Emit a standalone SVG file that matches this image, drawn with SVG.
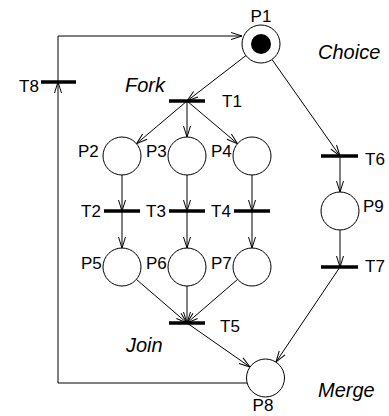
<svg xmlns="http://www.w3.org/2000/svg" width="389" height="416" viewBox="0 0 389 416">
<style>
.place{fill:#fff;stroke:#000;stroke-width:1}
.bar{stroke:#000;stroke-width:3.5}
.lbl{font-family:"Liberation Sans",Arial,sans-serif;font-size:17px;fill:#000}
.it{font-family:"Liberation Sans",Arial,sans-serif;font-size:20px;font-style:italic;fill:#000}
.arc{fill:none;stroke:#000;stroke-width:1}
</style>
<defs>
<marker id="ah" markerUnits="userSpaceOnUse" markerWidth="13" markerHeight="10" refX="12" refY="5" orient="auto">
<path d="M1,1.5 L12,5 L1,8.5" fill="none" stroke="#000" stroke-width="1"/>
</marker>
</defs>
<g id="connectors">
<polyline class="arc" points="58,82 58,36 242,36" marker-end="url(#ah)"/>
<polyline class="arc" points="247,383 58,383 58,82" marker-end="url(#ah)"/>
<line class="arc" x1="246" y1="55.5" x2="187" y2="101" marker-end="url(#ah)"/>
<line class="arc" x1="272" y1="59.5" x2="340" y2="156" marker-end="url(#ah)"/>
<line class="arc" x1="187" y1="101" x2="136.5" y2="143.7" marker-end="url(#ah)"/>
<line class="arc" x1="187" y1="101" x2="187" y2="137" marker-end="url(#ah)"/>
<line class="arc" x1="187" y1="101" x2="237.5" y2="143.7" marker-end="url(#ah)"/>
<line class="arc" x1="122" y1="175" x2="122" y2="211" marker-end="url(#ah)"/>
<line class="arc" x1="187" y1="175" x2="187" y2="211" marker-end="url(#ah)"/>
<line class="arc" x1="252" y1="175" x2="252" y2="211" marker-end="url(#ah)"/>
<line class="arc" x1="122" y1="211" x2="122" y2="248" marker-end="url(#ah)"/>
<line class="arc" x1="187" y1="211" x2="187" y2="248" marker-end="url(#ah)"/>
<line class="arc" x1="252" y1="211" x2="252" y2="248" marker-end="url(#ah)"/>
<line class="arc" x1="136.4" y1="279.4" x2="187" y2="323" marker-end="url(#ah)"/>
<line class="arc" x1="187" y1="286" x2="187" y2="323" marker-end="url(#ah)"/>
<line class="arc" x1="237.6" y1="279.4" x2="187" y2="323" marker-end="url(#ah)"/>
<line class="arc" x1="187" y1="323" x2="250" y2="367" marker-end="url(#ah)"/>
<line class="arc" x1="340" y1="156" x2="340" y2="192" marker-end="url(#ah)"/>
<line class="arc" x1="340" y1="230" x2="340" y2="267" marker-end="url(#ah)"/>
<line class="arc" x1="340" y1="267" x2="276" y2="362" marker-end="url(#ah)"/>
</g>
<g id="P1"><circle class="place" cx="261" cy="44" r="19"/><circle cx="261" cy="44" r="10" fill="#000"/><text class="lbl" x="261" y="22" text-anchor="middle">P1</text></g>
<g id="P2"><circle class="place" cx="122" cy="156" r="19"/><text class="lbl" x="78" y="157">P2</text></g>
<g id="P3"><circle class="place" cx="187" cy="156" r="19"/><text class="lbl" x="146" y="157">P3</text></g>
<g id="P4"><circle class="place" cx="252" cy="156" r="19"/><text class="lbl" x="211" y="157">P4</text></g>
<g id="P5"><circle class="place" cx="122" cy="267" r="19"/><text class="lbl" x="81" y="269">P5</text></g>
<g id="P6"><circle class="place" cx="187" cy="267" r="19"/><text class="lbl" x="146" y="269">P6</text></g>
<g id="P7"><circle class="place" cx="252" cy="267" r="19"/><text class="lbl" x="211" y="269">P7</text></g>
<g id="P8"><circle class="place" cx="265.5" cy="378" r="19"/><text class="lbl" x="263" y="411" text-anchor="middle">P8</text></g>
<g id="P9"><circle class="place" cx="340" cy="211" r="19"/><text class="lbl" x="363" y="212">P9</text></g>
<g id="T1"><line class="bar" x1="169" y1="101" x2="205" y2="101"/><text class="lbl" x="222" y="107">T1</text></g>
<g id="T2"><line class="bar" x1="104" y1="211" x2="140" y2="211"/><text class="lbl" x="81" y="217">T2</text></g>
<g id="T3"><line class="bar" x1="169" y1="211" x2="205" y2="211"/><text class="lbl" x="146" y="217">T3</text></g>
<g id="T4"><line class="bar" x1="234" y1="211" x2="270" y2="211"/><text class="lbl" x="211" y="217">T4</text></g>
<g id="T5"><line class="bar" x1="169" y1="323" x2="205" y2="323"/><text class="lbl" x="220" y="332">T5</text></g>
<g id="T6"><line class="bar" x1="321" y1="156" x2="358" y2="156"/><text class="lbl" x="365" y="165">T6</text></g>
<g id="T7"><line class="bar" x1="321" y1="267" x2="358" y2="267"/><text class="lbl" x="365" y="272">T7</text></g>
<g id="T8"><line class="bar" x1="41" y1="82" x2="76" y2="82"/><text class="lbl" x="19" y="92">T8</text></g>
<g id="annotations">
<text class="it" x="318" y="59">Choice</text>
<text class="it" x="125" y="92">Fork</text>
<text class="it" x="126" y="352">Join</text>
<text class="it" x="318" y="397">Merge</text>
</g>
</svg>
